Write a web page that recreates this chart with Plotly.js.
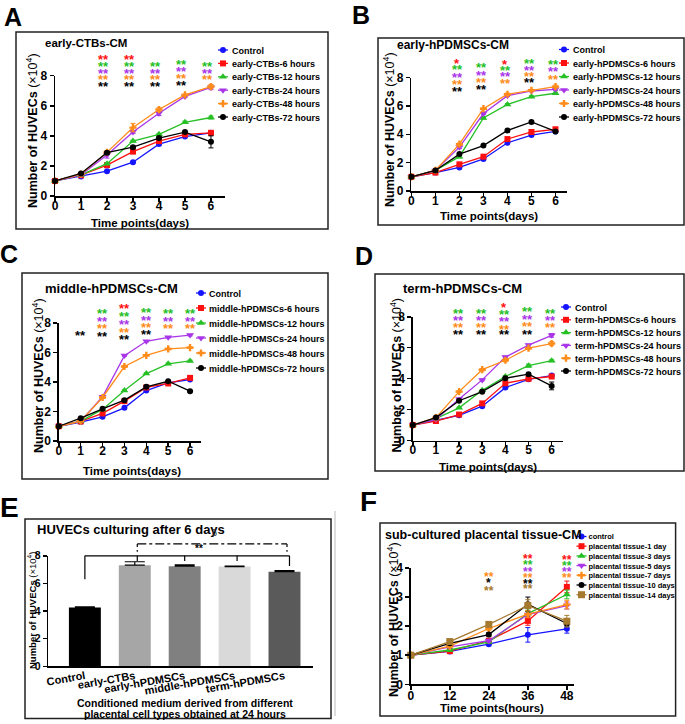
<!DOCTYPE html>
<html><head><meta charset="utf-8">
<script src="https://cdn.plot.ly/plotly-3.0.1.min.js"></script>
<style>html,body{margin:0;padding:0;background:#fff;} #chart{width:685px;height:724px;}</style>
</head><body><div id="chart"></div>
<script>
// ---------------- DATA ----------------
const days = [0, 1, 2, 3, 4, 5, 6];
const hours = [0, 12, 24, 36, 48];

const namesA = ['Control','early-CTBs-6 hours','early-CTBs-12 hours','early-CTBs-24 hours','early-CTBs-48 hours','early-CTBs-72 hours'];
const ctrlA = [1.0, 1.30, 1.65, 2.25, 3.45, 3.95, 4.20];
const h6A   = [1.0, 1.38, 2.05, 2.95, 3.65, 4.10, 4.20];
const h12A  = [1.0, 1.40, 2.15, 3.65, 4.10, 4.90, 5.22];
const h24A  = [1.0, 1.40, 2.72, 4.25, 5.50, 6.62, 7.22];
const h48A  = [1.0, 1.45, 2.90, 4.55, 5.75, 6.72, 7.28];
const h72A  = [1.0, 1.50, 2.88, 3.25, 3.85, 4.25, 3.60];
const errCtrlA = [0.03, 0.03, 0.04, 0.05, 0.08, 0.06, 0.08];
const err6A    = [0.03, 0.04, 0.08, 0.12, 0.08, 0.06, 0.06];
const err12A   = [0.03, 0.03, 0.05, 0.06, 0.06, 0.08, 0.10];
const err24A   = [0.03, 0.05, 0.20, 0.10, 0.15, 0.08, 0.15];
const err48A   = [0.03, 0.05, 0.10, 0.28, 0.12, 0.06, 0.12];
const err72A   = [0.03, 0.05, 0.08, 0.08, 0.10, 0.06, 0.40];

const namesB = ['Control','early-hPDMSCs-6 hours','early-hPDMSCs-12 hours','early-hPDMSCs-24 hours','early-hPDMSCs-48 hours','early-hPDMSCs-72 hours'];
const ctrlB = [1.0, 1.30, 1.66, 2.26, 3.40, 3.94, 4.20];
const h6B   = [1.0, 1.30, 1.88, 2.42, 3.66, 4.16, 4.35];
const h12B  = [1.0, 1.45, 2.42, 5.15, 6.10, 6.65, 6.89];
const h24B  = [1.0, 1.45, 3.09, 5.46, 6.72, 7.05, 7.17];
const h48B  = [1.0, 1.45, 3.30, 5.80, 6.82, 7.10, 7.36];
const h72B  = [1.0, 1.45, 2.60, 3.20, 4.27, 4.87, 4.20];
const errCtrlB = [0.03, 0.03, 0.04, 0.05, 0.06, 0.05, 0.06];
const err6B    = [0.03, 0.04, 0.05, 0.05, 0.06, 0.05, 0.06];
const err12B   = [0.03, 0.04, 0.08, 0.08, 0.06, 0.06, 0.08];
const err24B   = [0.03, 0.04, 0.10, 0.08, 0.06, 0.06, 0.08];
const err48B   = [0.03, 0.04, 0.08, 0.06, 0.08, 0.06, 0.10];
const err72B   = [0.03, 0.04, 0.05, 0.05, 0.06, 0.06, 0.06];

const namesC = ['Control','middle-hPDMSCs-6 hours','middle-hPDMSCs-12 hours','middle-hPDMSCs-24 hours','middle-hPDMSCs-48 hours','middle-hPDMSCs-72 hours'];
const ctrlC = [1.0, 1.28, 1.64, 2.25, 3.42, 3.94, 4.17];
const h6C   = [1.0, 1.33, 1.87, 2.70, 3.63, 3.90, 4.28];
const h12C  = [1.0, 1.35, 2.14, 3.42, 4.57, 5.23, 5.43];
const h24C  = [1.0, 1.35, 3.00, 5.79, 6.76, 7.03, 7.18];
const h48C  = [1.0, 1.35, 2.95, 5.05, 5.81, 6.24, 6.33];
const h72C  = [1.0, 1.55, 2.18, 2.77, 3.67, 4.05, 3.38];
const errCtrlC = [0.03, 0.03, 0.04, 0.05, 0.05, 0.05, 0.06];
const err6C    = [0.03, 0.03, 0.05, 0.08, 0.05, 0.05, 0.06];
const err12C   = [0.03, 0.03, 0.05, 0.05, 0.05, 0.05, 0.05];
const err24C   = [0.03, 0.03, 0.08, 0.05, 0.05, 0.05, 0.06];
const err48C   = [0.03, 0.03, 0.05, 0.05, 0.05, 0.05, 0.05];
const err72C   = [0.03, 0.04, 0.05, 0.05, 0.05, 0.05, 0.06];

const namesD = ['Control','term-hPDMSCs-6 hours','term-hPDMSCs-12 hours','term-hPDMSCs-24 hours','term-hPDMSCs-48 hours','term-hPDMSCs-72 hours'];
const ctrlD = [1.0, 1.31, 1.63, 2.22, 3.42, 3.96, 4.20];
const h6D   = [1.0, 1.26, 1.68, 2.40, 3.70, 3.99, 4.14];
const h12D  = [1.0, 1.42, 2.11, 3.25, 4.14, 4.84, 5.16];
const h24D  = [1.0, 1.37, 2.68, 3.92, 5.40, 6.17, 6.80];
const h48D  = [1.0, 1.48, 3.16, 4.58, 5.19, 5.97, 6.27];
const h72D  = [1.0, 1.48, 2.57, 3.16, 4.03, 4.29, 3.53];
const errCtrlD = [0.03, 0.03, 0.05, 0.05, 0.06, 0.06, 0.06];
const err6D    = [0.03, 0.03, 0.05, 0.08, 0.08, 0.06, 0.06];
const err12D   = [0.03, 0.03, 0.05, 0.06, 0.06, 0.10, 0.06];
const err24D   = [0.03, 0.03, 0.06, 0.06, 0.06, 0.06, 0.12];
const err48D   = [0.03, 0.03, 0.06, 0.08, 0.10, 0.06, 0.12];
const err72D   = [0.03, 0.04, 0.05, 0.06, 0.06, 0.06, 0.25];

const catsE = ['Control','early-CTBs','early-hPDMSCs','middle-hPDMSCs','term-hPDMSCs'];
const valsE = [4.25, 7.32, 7.25, 7.22, 6.85];
const errE  = [0.06, 0.25, 0.10, 0.04, 0.08];

const namesF = ['control','placental tissue-1 day','placental tissue-3 days','placental tissue-5 days','placental tissue-7 days','placental tissue-10 days','placental tissue-14 days'];
const ctrlF = [1.0, 1.13, 1.38, 1.70, 1.91];
const d1F   = [1.0, 1.14, 1.50, 2.18, 3.35];
const d3F   = [1.0, 1.18, 1.46, 2.43, 3.09];
const d5F   = [1.0, 1.29, 1.50, 2.40, 2.71];
const d7F   = [1.0, 1.31, 1.92, 2.41, 2.74];
const d10F  = [1.0, 1.41, 1.71, 2.75, 2.09];
const d14F  = [1.0, 1.47, 2.06, 2.71, 2.17];
const errCtrlF = [0.02, 0.04, 0.05, 0.25, 0.15];
const err1F    = [0.02, 0.04, 0.06, 0.15, 0.20];
const err3F    = [0.02, 0.04, 0.05, 0.12, 0.15];
const err5F    = [0.02, 0.04, 0.05, 0.10, 0.12];
const err7F    = [0.02, 0.04, 0.06, 0.12, 0.15];
const err10F   = [0.02, 0.05, 0.07, 0.25, 0.08];
const err14F   = [0.02, 0.05, 0.07, 0.20, 0.20];

// ---------------- STYLE / LAYOUT ----------------
const W = 685, H = 724;
const FONT = '"Liberation Sans", Arial, sans-serif';
const COL = {b:'#1414ff', r:'#ff1010', g:'#26c026', p:'#a836e8', o:'#ff8c1a', k:'#000000', n:'#a67a2e'};
const px = v => v / W;
const py = v => 1 - v / H;
const xd = (a, b) => [px(a), px(b)];
const yd = (top, bot) => [py(bot), py(top)];

const lineStyles = [
  {c:COL.b, s:'circle', z:6}, {c:COL.r, s:'square', z:6}, {c:COL.g, s:'triangle-up', z:7},
  {c:COL.p, s:'triangle-down', z:7}, {c:COL.o, s:'cross', z:6}, {c:COL.k, s:'circle', z:6}, {c:COL.n, s:'square', z:7}
];

function series(names, xs, ys, errs, xa, ya, leg) {
  return ys.map((y, i) => ({
    type:'scatter', mode:'lines+markers', name:names[i], x:xs, y:y, xaxis:xa, yaxis:ya, legend:leg,
    line:{color:lineStyles[i].c, width:1.3},
    marker:{color:lineStyles[i].c, symbol:lineStyles[i].s, size:lineStyles[i].z},
    error_y:{type:'data', array:errs[i], visible:true, color:lineStyles[i].c, thickness:1, width:2.5},
    cliponaxis:false
  }));
}

const traces = [].concat(
  series(namesA, days, [ctrlA,h6A,h12A,h24A,h48A,h72A], [errCtrlA,err6A,err12A,err24A,err48A,err72A], 'x', 'y', 'legend'),
  series(namesB, days, [ctrlB,h6B,h12B,h24B,h48B,h72B], [errCtrlB,err6B,err12B,err24B,err48B,err72B], 'x2', 'y2', 'legend2'),
  series(namesC, days, [ctrlC,h6C,h12C,h24C,h48C,h72C], [errCtrlC,err6C,err12C,err24C,err48C,err72C], 'x3', 'y3', 'legend3'),
  series(namesD, days, [ctrlD,h6D,h12D,h24D,h48D,h72D], [errCtrlD,err6D,err12D,err24D,err48D,err72D], 'x4', 'y4', 'legend4'),
  series(namesF, hours, [ctrlF,d1F,d3F,d5F,d7F,d10F,d14F], [errCtrlF,err1F,err3F,err5F,err7F,err10F,err14F], 'x6', 'y6', 'legend5'),
  [{
    type:'bar', x:catsE, y:valsE, xaxis:'x5', yaxis:'y5', showlegend:false, width:0.64,
    marker:{color:['#000000','#a6a6a6','#808080','#d9d9d9','#5a5a5a'], line:{width:0}},
    error_y:{type:'data', symmetric:false, array:errE, arrayminus:errE.map(() => 0), color:'#000', thickness:1.2, width:10}
  }]
);

function axis(dom, range, anchor, extra) {
  return Object.assign({
    domain:dom, range:range, autorange:false, anchor:anchor,
    showline:true, linecolor:'#000', linewidth:1.5, mirror:false,
    ticks:'outside', ticklen:4, tickwidth:1.5, tickcolor:'#000',
    showgrid:false, zeroline:false, fixedrange:true,
    tickfont:{family:FONT, size:12, color:'#000', weight:'bold'}
  }, extra || {});
}
const dayTicks = {tickmode:'linear', tick0:0, dtick:1, ticklabelstandoff:-6};
const yTicks8 = {tickmode:'linear', tick0:0, dtick:2};

const layout = {
  width:W, height:H, margin:{l:0, r:0, t:0, b:0, autoexpand:false},
  paper_bgcolor:'#fff', plot_bgcolor:'rgba(0,0,0,0)', showlegend:true,
  xaxis:  axis(xd(55, 225),     [0, 6.54], 'y',  dayTicks),
  yaxis:  axis(yd(75.7, 196),   [0, 8],    'x',  yTicks8),
  xaxis2: axis(xd(411.4, 567),  [0, 6.48], 'y2', dayTicks),
  yaxis2: axis(yd(77.5, 191),   [0, 8],    'x2', yTicks8),
  xaxis3: axis(xd(58.8, 201),   [0, 6.5],  'y3', dayTicks),
  yaxis3: axis(yd(323, 441),    [0, 8],    'x3', yTicks8),
  xaxis4: axis(xd(412.8, 563),  [0, 6.49], 'y4', dayTicks),
  yaxis4: axis(yd(316.8, 440.5),[0, 8],    'x4', yTicks8),
  xaxis5: axis(xd(48.2, 313.3), [-0.735, 4.577], 'y5', {type:'category', ticks:'', tickangle:-10, ticklabelstandoff:-2,
            tickfont:{family:FONT, size:11, color:'#000', weight:'bold'}}),
  yaxis5: axis(yd(555.8, 666.3),[0, 8],    'x5', Object.assign({tickfont:{family:FONT, size:10.5, color:'#000', weight:'bold'}}, yTicks8)),
  xaxis6: axis(xd(410.8, 574),  [0, 50.2], 'y6', {tickmode:'array', tickvals:hours, ticklabelstandoff:-4}),
  yaxis6: axis(yd(568, 684.3),  [0, 4],    'x6', {tickmode:'linear', tick0:0, dtick:1}),
  shapes:[], annotations:[]
};

const legCfg = [
  {id:'legend',  mx:223,   y0:50,    sp:13.4, size:9,   tx:29},
  {id:'legend2', mx:564,   y0:49.5,  sp:13.5, size:9,   tx:29},
  {id:'legend3', mx:201,   y0:293,   sp:15,   size:9,   tx:28},
  {id:'legend4', mx:566,   y0:307,   sp:12.8, size:9,   tx:29},
  {id:'legend5', mx:581.5, y0:536.5, sp:9.7,  size:7.5, tx:27}
];
legCfg.forEach(c => {
  layout[c.id] = {x:px(c.mx - 20), y:py(c.y0 - 12), xanchor:'left', yanchor:'top',
    bgcolor:'rgba(0,0,0,0)', borderwidth:0, tracegroupgap:0,
    font:{family:FONT, size:c.size, color:'#000', weight:'bold'}};
});

// panel boxes
const boxes = [[16,32,328,229],[378,38,684,225],[22,273,328,479],[375,274,684,471],[25,519,331,718.5],[380,523,675.6,716]];
boxes.forEach(b => layout.shapes.push({type:'rect', xref:'paper', yref:'paper', x0:px(b[0]), x1:px(b[2]), y0:py(b[1]), y1:py(b[3]), line:{color:'#222', width:1.5}, fillcolor:'rgba(0,0,0,0)'}));
layout.shapes.push({type:'line', xref:'paper', yref:'paper', x0:px(335), x1:px(335), y0:py(511), y1:py(716), line:{color:'#bbb', width:1}});

// bracket in panel E (x in category index units, y via the E axis scale)
const eY = v => py(666.3 - v * (666.3 - 555.8) / 8);
const ln = (x0, v0, x1, v1, dash) => ({type:'line', xref:'x5', yref:'paper', x0:x0, x1:x1, y0:eY(v0), y1:eY(v1), line:{color:'#000', width:1.2, dash:dash || 'solid'}});
layout.shapes.push(ln(0, 8, 4.1, 8), ln(0, 8, 0, 6.3), ln(1.05, 8, 1.05, 7.63), ln(2, 8, 2, 7.63), ln(3.05, 8, 3.05, 7.63), ln(4.1, 8, 4.1, 7.26));
layout.shapes.push(ln(1.05, 8.86, 4.05, 8.86, 'dashdot'), ln(1.05, 8.86, 1.05, 8.3, 'dot'), ln(4.05, 8.86, 4.05, 8.3, 'dot'));

function ann(x, y, text, size, opts) {
  return Object.assign({xref:'paper', yref:'paper', x:px(x), y:py(y), text:text, showarrow:false,
    xanchor:'center', yanchor:'middle', font:{family:FONT, size:size, color:'#000', weight:'bold'}}, opts || {});
}
const A = layout.annotations;
// panel letters
[['A',13,17,25],['B',361,14.5,25],['C',8.5,254,25],['D',363.5,256,25],['E',9.5,507,28],['F',368,502,28]]
  .forEach(l => A.push(ann(l[1], l[2], l[0], l[3])));
// panel titles
[['early-CTBs-CM',43,43,11.5],['early-hPDMSCs-CM',395,45,12],['middle-hPDMSCs-CM',43,289,13],['term-hPDMSCs-CM',400.6,288,13],['sub-cultured placental tissue-CM',383,535,12.5]]
  .forEach(t => A.push(ann(t[1], t[2], t[0], t[3], {xanchor:'left'})));
A.push(ann(34.7, 529.5, 'HUVECs culturing after 6 days', 13, {xanchor:'left'}));
// axis titles
const yTitle = '<b>Number of HUVECs</b> (×10<sup>4</sup>)';
[[32,131,12.5],[389,130,12.5],[38,376,12.5],[395.6,375,12.5],[393,620,12.5],[32,610,9.5]]
  .forEach(t => A.push(ann(t[0], t[1], yTitle, t[2], {textangle:-90, font:{family:FONT, size:t[2], color:'#000', weight:'normal'}})));
[[140,223],[489,216],[132,470.7],[488,466.7]].forEach(t => A.push(ann(t[0], t[1], 'Time points(days)', 11.5)));
A.push(ann(492, 707.6, 'Time points(hours)', 11.5));
A.push(ann(185, 703, 'Conditioned medium derived from different', 10.5));
A.push(ann(185, 713.5, 'placental cell types obtained at 24 hours', 10.5));
// E significance marks
A.push({xref:'x5', x:2.28, yref:'paper', y:eY(8.1), yshift:-2, text:'**', showarrow:false, font:{family:FONT, size:10, color:'#000', weight:'bold'}});
A.push({xref:'x5', x:2.59, yref:'paper', y:eY(9.15), text:'δ', showarrow:false, font:{family:FONT, size:9, color:'#333'}});

// significance asterisks: [x value, colour key, page y (px), text]
const sigA = [[2,'r',56.5],[2,'g',63],[2,'p',70.4],[2,'o',77],[2,'k',83.7],
  [3,'r',56.5],[3,'g',63],[3,'p',70.4],[3,'o',77],[3,'k',83.7],
  [4,'g',63],[4,'p',70.4],[4,'o',77],[4,'k',83.7],
  [5,'g',62],[5,'p',69],[5,'o',76],[5,'k',82.5],
  [6,'g',63],[6,'p',70],[6,'o',76.5]];
const sigB = [[2,'r',60,'*'],[2,'g',66.4],[2,'p',74.1],[2,'o',81.9],[2,'k',88.6],
  [3,'g',65],[3,'p',72.4],[3,'o',79.9],[3,'k',86.9],
  [4,'r',61,'*'],[4,'g',67],[4,'p',73.8],[4,'o',80.9],
  [5,'g',60.6],[5,'p',67.4],[5,'o',73.4],[5,'k',79.9],
  [6,'g',61.7],[6,'p',68.4],[6,'o',76.8]];
const sigC = [[1,'k',332.4],[2,'g',310.8],[2,'p',318.7],[2,'o',325.7],[2,'k',333.4],
  [3,'r',305.8],[3,'g',313.8],[3,'p',321.4],[3,'o',329],[3,'k',336.3],
  [4,'g',309],[4,'p',317],[4,'o',324.4],[4,'k',331.7],
  [5,'g',310.8],[5,'p',318],[5,'o',325.7],
  [6,'g',310.8],[6,'p',318],[6,'o',325.7]];
const sigD = [[2,'g',310],[2,'p',317.5],[2,'o',324.2],[2,'k',331.6],
  [3,'g',310],[3,'p',317.5],[3,'o',324.2],[3,'k',331.6],
  [4,'r',304.7,'*'],[4,'g',311.4],[4,'p',318.8],[4,'o',326.3],[4,'k',331.6],
  [5,'g',308.7],[5,'p',316.1],[5,'o',323.6],[5,'k',331],
  [6,'g',310],[6,'p',317.5],[6,'o',324.2]];
const sigF = [[24,'o',573.7],[24,'k',580.3,'*'],[24,'n',588],
  [36,'r',555.7],[36,'g',562.4],[36,'p',569],[36,'o',575.3],[36,'k',580.7],[36,'n',586.3],
  [48,'r',557],[48,'g',563],[48,'p',569],[48,'o',575.3]];
function addSig(list, xref, xshift, size) {
  list.forEach(s => A.push({xref:xref, x:s[0], yref:'paper', y:py(s[2] + 3), text:s[3] || '**', showarrow:false,
    xanchor:'center', yanchor:'middle', xshift:xshift,
    font:{family:FONT, size:size, color:COL[s[1]], weight:'bold'}}));
}
addSig(sigA, 'x', -3, 13); addSig(sigB, 'x2', -2, 13); addSig(sigC, 'x3', 0, 13);
addSig(sigD, 'x4', -1, 13); addSig(sigF, 'x6', 0, 12);

// tighten legend rows and the symbol-to-text gap to match the reference
function fixLegends() {
  const gd = document.getElementById('chart');
  legCfg.forEach(cfg => {
    const g = gd.querySelector('g.' + cfg.id);
    if (!g) return;
    g.setAttribute('transform', 'translate(' + (cfg.mx - 20) + ',' + cfg.y0 + ')');
    g.querySelectorAll('[clip-path]').forEach(e => e.removeAttribute('clip-path'));
    g.querySelectorAll('rect.bg').forEach(e => e.setAttribute('visibility', 'hidden'));
    g.querySelectorAll('g.scrollbox, g.groups').forEach(e => e.setAttribute('transform', 'translate(0,0)'));
    g.querySelectorAll('g.traces').forEach((it, i) => {
      it.setAttribute('transform', 'translate(0,' + (i * cfg.sp) + ')');
      it.querySelectorAll('text, text tspan[x]').forEach(t => t.setAttribute('x', cfg.tx));
      it.querySelectorAll('.legendlines path').forEach(p => p.setAttribute('d', 'M15,0h10'));
    });
  });
}

Plotly.newPlot('chart', traces, layout, {displayModeBar:false, staticPlot:true}).then(() => {
  fixLegends();
  setTimeout(fixLegends, 50);
  setTimeout(fixLegends, 300);
});
</script></body></html>
